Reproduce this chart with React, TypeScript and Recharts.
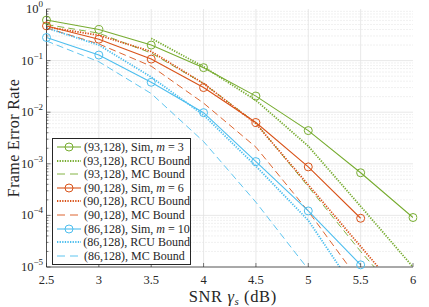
import React from 'react';
import { LineChart, Line, XAxis, YAxis, ReferenceLine, Legend, Label } from 'recharts';

// ---------- data ----------
const snr = [2.5, 3, 3.5, 4, 4.5, 5, 5.5, 6];
const simM3 = [0.61, 0.4, 0.2, 0.073, 0.0205, 0.0044, 6.7e-4, 9.1e-5];
const rcu93 = [null, null, 0.27, 0.076, 0.017, 0.0022, 1.5e-4, 1e-5];
const mc93 = [0.5, 0.34, 0.14, 0.036, 0.0062, 3.6e-4, 2e-5, 1.4e-6];
const simM6 = [0.47, 0.26, 0.107, 0.03, 0.0063, 8.7e-4, 8.8e-5, null];
const rcu90 = [0.45, 0.31, 0.15, 0.036, 0.006, 3.9e-4, 2.5e-5, 1.6e-6];
const mc90 = [0.43, 0.21, 0.078, 0.015, 0.0021, 1.2e-4, 5e-6, null];
const simM10 = [0.28, 0.128, 0.038, 0.0098, 0.0011, 1.22e-4, 1.1e-5, null];
const rcu86 = [0.43, 0.2, 0.048, 0.0088, 9e-4, 8e-5, 2.5e-6, null];
const mc86 = [0.24, 0.095, 0.023, 0.0027, 1.8e-4, 9e-6, null, null];

const xTicks = [2.5, 3, 3.5, 4, 4.5, 5, 5.5, 6];
const xTickLabels = ['2.5', '3', '3.5', '4', '4.5', '5', '5.5', '6'];
const yMajor = [1e-5, 1e-4, 1e-3, 1e-2, 1e-1, 1];
const yExponents = ['\u22125', '\u22124', '\u22123', '\u22122', '\u22121', '0'];
const yMinorMultipliers = [2, 3, 4, 5, 6, 7, 8, 9];
const yMinor: number[] = [];
yMajor.slice(0, -1).forEach((d) => yMinorMultipliers.forEach((m) => yMinor.push(+(m * d).toPrecision(3))));
const yAll = [...yMajor, ...yMinor].sort((a, b) => a - b);

const GREEN = '#77AC30';
const ORANGE = '#D95319';
const BLUE = '#4DBEEE';
const AXIS = '#262626';
const FONT = '"Liberation Serif", "Times New Roman", serif';

const series = [
  { key: 'simM3', values: simM3, color: GREEN, kind: 'sim', label: ['(93,128), Sim, ', 'm', ' = 3'] },
  { key: 'rcu93', values: rcu93, color: GREEN, kind: 'rcu', label: ['(93,128), RCU Bound'] },
  { key: 'mc93', values: mc93, color: GREEN, kind: 'mc', label: ['(93,128), MC Bound'] },
  { key: 'simM6', values: simM6, color: ORANGE, kind: 'sim', label: ['(90,128), Sim, ', 'm', ' = 6'] },
  { key: 'rcu90', values: rcu90, color: ORANGE, kind: 'rcu', label: ['(90,128), RCU Bound'] },
  { key: 'mc90', values: mc90, color: ORANGE, kind: 'mc', label: ['(90,128), MC Bound'] },
  { key: 'simM10', values: simM10, color: BLUE, kind: 'sim', label: ['(86,128), Sim, ', 'm', ' = 10'] },
  { key: 'rcu86', values: rcu86, color: BLUE, kind: 'rcu', label: ['(86,128), RCU Bound'] },
  { key: 'mc86', values: mc86, color: BLUE, kind: 'mc', label: ['(86,128), MC Bound'] },
];

const rows = snr.map((x, i) => {
  const r: any = { x };
  series.forEach((s) => {
    r[s.key] = s.values[i];
  });
  return r;
});

const isMajor = (v: number) => Math.abs(Math.log10(v) - Math.round(Math.log10(v))) < 1e-6;

const LeftTick = (props: any) => {
  const { x, y, payload } = props;
  const v = payload.value;
  if (isMajor(v)) {
    const idx = yMajor.findIndex((m) => Math.abs(Math.log10(m) - Math.log10(v)) < 1e-6);
    return (
      <g>
        <line x1={x} x2={x + 4} y1={y} y2={y} stroke={AXIS} strokeWidth={0.6} />
        <text x={x - 3.5} y={y + 4} textAnchor="end" fontFamily={FONT} fontSize={12.5} fill={AXIS}>
          <tspan>10</tspan>
          <tspan dy={-6} fontSize={9}>{yExponents[idx]}</tspan>
        </text>
      </g>
    );
  }
  return <line x1={x} x2={x + 2} y1={y} y2={y} stroke={AXIS} strokeWidth={0.6} />;
};

const RightTick = (props: any) => {
  const { x, y, payload } = props;
  const len = isMajor(payload.value) ? 4 : 2;
  return <line x1={x} x2={x - len} y1={y} y2={y} stroke={AXIS} strokeWidth={0.6} />;
};

const BottomTick = (props: any) => {
  const { x, y, payload } = props;
  const idx = xTicks.indexOf(payload.value);
  return (
    <g>
      <line x1={x} x2={x} y1={y} y2={y - 4} stroke={AXIS} strokeWidth={0.6} />
      <text x={x} y={y + 17} textAnchor="middle" fontFamily={FONT} fontSize={12.5} fill={AXIS}>
        {xTickLabels[idx]}
      </text>
    </g>
  );
};

const TopTick = (props: any) => {
  const { x, y } = props;
  return <line x1={x} x2={x} y1={y} y2={y + 4} stroke={AXIS} strokeWidth={0.6} />;
};

const XLabel = (props: any) => {
  const { viewBox } = props;
  const cx = viewBox.x + viewBox.width / 2 + 3;
  return (
    <text x={cx} y={viewBox.y + 35} textAnchor="middle" fontFamily={FONT} fontSize={16.5} fill={AXIS}
      letterSpacing={0.6}>
      <tspan>SNR </tspan>
      <tspan fontStyle="italic">γ</tspan>
      <tspan fontStyle="italic" fontSize={11} dy={3}>s</tspan>
      <tspan dy={-3}> (dB)</tspan>
    </text>
  );
};

const YLabel = (props: any) => {
  const { viewBox } = props;
  const cx = 13;
  const cy = viewBox.y + viewBox.height / 2;
  return (
    <text x={cx} y={cy} textAnchor="middle" fontFamily={FONT} fontSize={16} fill={AXIS} letterSpacing={0.4}
      transform={`rotate(-90 ${cx} ${cy})`} dominantBaseline="central">
      Frame Error Rate
    </text>
  );
};

const dashFor = (kind: string) => (kind === 'rcu' ? '1.3 1.3' : kind === 'mc' ? '7 4' : undefined);
const widthFor = (kind: string) => (kind === 'rcu' ? 1.8 : kind === 'mc' ? 0.9 : 1.1);

const LegendBox = () => (
  <div
    style={{
      border: `0.7px solid ${AXIS}`,
      background: '#fff',
      boxSizing: 'border-box',
      width: 139,
      padding: '1.5px 0 1.5px 3px',
      fontFamily: FONT,
      fontSize: 12,
      color: AXIS,
      lineHeight: 1,
    }}
  >
    {series.map((s) => (
      <div key={s.key} style={{ display: 'flex', alignItems: 'center', height: 13.55 }}>
        <svg width={26} height={12} style={{ display: 'block' }}>
          <line x1={1} x2={25} y1={6} y2={6} stroke={s.color} strokeWidth={widthFor(s.kind)}
            strokeDasharray={s.kind === 'mc' ? '8 5' : dashFor(s.kind)} />
          {s.kind === 'sim' && <circle cx={13} cy={6} r={4} fill="none" stroke={s.color} strokeWidth={1} />}
        </svg>
        <span style={{ marginLeft: 2, whiteSpace: 'nowrap' }}>
          {s.label[0]}
          {s.label.length > 1 && <i>{s.label[1]}</i>}
          {s.label.length > 2 && s.label[2]}
        </span>
      </div>
    ))}
  </div>
);

export default function App() {
  return (
    <div style={{ position: 'absolute', left: 0, top: 0 }}>
      <LineChart width={429} height={307} data={rows} margin={{ top: 9, right: 16, bottom: 0, left: 0 }}>
        <XAxis dataKey="x" type="number" domain={[2.5, 6]} ticks={xTicks} interval={0} height={40}
          allowDataOverflow tickSize={0} tickMargin={0} tick={<BottomTick />} axisLine={{ stroke: AXIS, strokeWidth: 0.8 }}>
          <Label content={<XLabel />} />
        </XAxis>
        <XAxis xAxisId="top" orientation="top" dataKey="x" type="number" domain={[2.5, 6]} ticks={xTicks}
          interval={0} height={0} tickSize={0} tickMargin={0} tick={<TopTick />} axisLine={{ stroke: AXIS, strokeWidth: 0.8 }} />
        <YAxis scale="log" type="number" domain={[1e-5, 1]} ticks={yAll} interval={0} width={46.5}
          allowDataOverflow tickSize={0} tickMargin={0} tick={<LeftTick />} axisLine={{ stroke: AXIS, strokeWidth: 0.8 }}>
          <Label content={<YLabel />} />
        </YAxis>
        <YAxis yAxisId="right" orientation="right" scale="log" type="number" domain={[1e-5, 1]} ticks={yAll}
          interval={0} width={0} allowDataOverflow tickSize={0} tickMargin={0} tick={<RightTick />}
          axisLine={{ stroke: AXIS, strokeWidth: 0.8 }} />
        {yMinor.map((v) => (
          <ReferenceLine key={'mn' + v} y={v} stroke="#cfcfcf" strokeWidth={0.6} strokeDasharray="1 2" />
        ))}
        {yMajor.slice(1, -1).map((v) => (
          <ReferenceLine key={'mj' + v} y={v} stroke="#e2e2e2" strokeWidth={0.8} />
        ))}
        {xTicks.slice(1, -1).map((v) => (
          <ReferenceLine key={'vx' + v} x={v} stroke="#e2e2e2" strokeWidth={0.8} />
        ))}
        {series.map((s) => (
          <Line key={s.key} dataKey={s.key} name={s.key} type="linear" stroke={s.color}
            strokeWidth={widthFor(s.kind)} strokeDasharray={dashFor(s.kind)}
            dot={s.kind === 'sim' ? { r: 4, fill: 'none', stroke: s.color, strokeWidth: 1, clipDot: false } : false}
            activeDot={false} isAnimationActive={false} connectNulls={false} />
        ))}
        <Legend layout="horizontal" verticalAlign="middle" align="center" content={<LegendBox />}
          wrapperStyle={{ left: 52, top: 138, width: 139, height: 'auto' }} />
      </LineChart>
    </div>
  );
}
